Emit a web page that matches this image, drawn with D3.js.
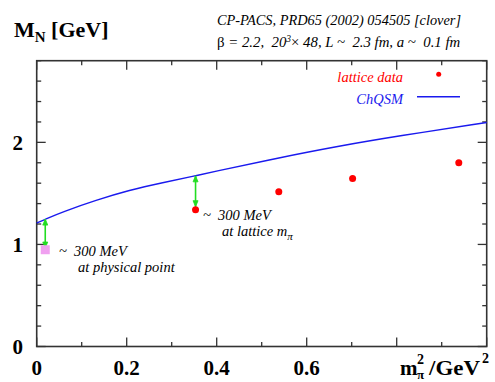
<!DOCTYPE html>
<html><head><meta charset="utf-8">
<script src="https://cdn.jsdelivr.net/npm/d3@7"></script>
<style>
html,body{margin:0;padding:0;background:#fff;}
svg text{font-family:"Liberation Serif","Times New Roman",serif; white-space:pre;}
</style></head>
<body>
<svg id="chart" width="495" height="382"></svg>
<script>
// ---- data ----
const latticeX = [0.353, 0.538, 0.702, 0.938];
const latticeY = [1.339, 1.515, 1.645, 1.800];
const latticeErr = [0.025, 0.02, 0.02, 0.025];
const chqsmX = [0, 0.019, 0.058, 0.132, 0.206, 0.28, 0.353, 0.384, 0.539, 0.673, 0.80, 1.0];
const chqsmY = [1.209, 1.248, 1.32, 1.434, 1.532, 1.606, 1.672, 1.704, 1.85, 1.965, 2.06, 2.195];
const physX = [0.019];
const physY = [0.948];
const arrowX = [0.019, 0.353];
const arrowTop = [1.248, 1.672];
const arrowBottom = [0.965, 1.37];
const xTickLabels = ["0", "0.2", "0.4", "0.6"];
const yTickLabels = ["0", "1", "2"];
const header1 = "CP-PACS, PRD65 (2002) 054505 [clover]";

const svg = d3.select("#chart");
const X0 = 36.7, X1 = 486.7, Y0 = 346.5, Y1 = 60.7;
const x = d3.scaleLinear().domain([0, 1]).range([X0, X1]);
const y = d3.scaleLinear().domain([0, 2.8]).range([Y0, Y1]);

// frame
svg.append("rect").attr("x", X0).attr("y", Y1).attr("width", X1 - X0).attr("height", Y0 - Y1)
  .attr("fill", "none").attr("stroke", "#333").attr("stroke-width", 1.6);

// ticks
const tickCol = "#333";
const xt = d3.range(0, 1.0001, 0.1);
xt.forEach((v, i) => {
  const L = (i % 2 === 0) ? 9 : 4.5;
  svg.append("line").attr("x1", x(v)).attr("x2", x(v)).attr("y1", Y0).attr("y2", Y0 - L).attr("stroke", tickCol).attr("stroke-width", 1.3);
  svg.append("line").attr("x1", x(v)).attr("x2", x(v)).attr("y1", Y1).attr("y2", Y1 + L).attr("stroke", tickCol).attr("stroke-width", 1.3);
});
const yt = d3.range(0, 2.8001, 0.2);
yt.forEach((v, i) => {
  const L = (i % 5 === 0) ? 9 : 4.5;
  svg.append("line").attr("y1", y(v)).attr("y2", y(v)).attr("x1", X0).attr("x2", X0 + L).attr("stroke", tickCol).attr("stroke-width", 1.3);
  svg.append("line").attr("y1", y(v)).attr("y2", y(v)).attr("x1", X1).attr("x2", X1 - L).attr("stroke", tickCol).attr("stroke-width", 1.3);
});

// tick labels
xTickLabels.forEach(t => {
  svg.append("text").attr("x", x(+t)).attr("y", 375).attr("text-anchor", "middle")
    .attr("font-size", 21).attr("font-weight", "bold").text(t);
});
yTickLabels.forEach(t => {
  svg.append("text").attr("x", 23).attr("y", y(+t)).attr("dy", "0.35em").attr("text-anchor", "end")
    .attr("font-size", 21).attr("font-weight", "bold").text(t);
});

// axis titles
const yt1 = svg.append("text").attr("x", 14).attr("y", 37).attr("font-size", 22).attr("font-weight", "bold");
yt1.append("tspan").text("M");
yt1.append("tspan").attr("font-size", 15).attr("dy", 5).text("N");
yt1.append("tspan").attr("dy", -5).text(" [GeV]");

svg.append("text").attr("x", 400).attr("y", 375).attr("font-size", 21).attr("font-weight", "bold").text("m");
svg.append("text").attr("x", 417).attr("y", 364).attr("font-size", 14).attr("font-weight", "bold").text("2");
svg.append("text").attr("x", 417).attr("y", 379).attr("font-size", 13).attr("font-weight", "bold").text("π");
svg.append("text").attr("x", 429).attr("y", 375).attr("font-size", 21).attr("font-weight", "bold")
  .attr("textLength", 51).attr("lengthAdjust", "spacingAndGlyphs").text("/GeV");
svg.append("text").attr("x", 482).attr("y", 363).attr("font-size", 14).attr("font-weight", "bold").text("2");

// header
svg.append("text").attr("x", 217).attr("y", 25).attr("font-size", 14).attr("font-style", "italic")
  .attr("textLength", 244).attr("lengthAdjust", "spacingAndGlyphs").text(header1);
const h2 = svg.append("text").attr("x", 217).attr("y", 47).attr("font-size", 14.8).attr("font-style", "italic");
h2.append("tspan").attr("font-style", "normal").text("β");
h2.append("tspan").text(" = 2.2,  20");
h2.append("tspan").attr("font-size", 9.5).attr("dy", -5).text("3");
h2.append("tspan").attr("dy", 5).attr("font-style", "normal").text("×");
h2.append("tspan").text(" 48, L ~  2.3 fm, a ~  0.1 fm");

// ChQSM curve
const curvePts = chqsmX.map((v, i) => [v, chqsmY[i]]);
svg.append("path").datum(curvePts)
  .attr("d", d3.line().x(d => x(d[0])).y(d => y(d[1])).curve(d3.curveBasis))
  .attr("fill", "none").attr("stroke", "#1a1aee").attr("stroke-width", 1.4);

// arrows
const green = "#22dd22";
arrowX.forEach((v, i) => {
  const xx = x(v), ya = y(arrowTop[i]), yb = y(arrowBottom[i]);
  svg.append("line").attr("x1", xx).attr("x2", xx).attr("y1", ya).attr("y2", yb).attr("stroke", green).attr("stroke-width", 1.6);
  svg.append("path").attr("d", `M${xx - 2.5},${ya + 6}L${xx},${ya}L${xx + 2.5},${ya + 6}Z`).attr("fill", green).attr("stroke", green).attr("stroke-width", 0.8);
  svg.append("path").attr("d", `M${xx - 2.5},${yb - 6}L${xx},${yb}L${xx + 2.5},${yb - 6}Z`).attr("fill", green).attr("stroke", green).attr("stroke-width", 0.8);
});

// physical point
physX.forEach((v, i) => {
  svg.append("rect").attr("x", x(v) - 4.5).attr("y", y(physY[i]) - 4.5).attr("width", 9).attr("height", 9)
    .attr("fill", "#f0a0f0");
});

// lattice data
latticeX.forEach((v, i) => {
  svg.append("line").attr("x1", x(v)).attr("x2", x(v)).attr("y1", y(latticeY[i] - latticeErr[i])).attr("y2", y(latticeY[i] + latticeErr[i]))
    .attr("stroke", "#ff0000").attr("stroke-width", 1.6);
  svg.append("circle").attr("cx", x(v)).attr("cy", y(latticeY[i])).attr("r", 3.5).attr("fill", "#ff0000");
});

// annotations
function ann(x0, yb, l2x) {
  svg.append("text").attr("x", x0).attr("y", yb).attr("font-size", 14.5).attr("font-style", "italic").text("~  300 MeV");
  return svg.append("text").attr("x", l2x).attr("y", yb + 16).attr("font-size", 14.5).attr("font-style", "italic");
}
const a1 = ann(59, 256, 78);
a1.text("at physical point");
const a2 = ann(203, 220, 222);
a2.append("tspan").text("at lattice m");
a2.append("tspan").attr("font-size", 11).attr("dy", 4).text("π");

// legend
svg.append("text").attr("x", 403).attr("y", 82).attr("text-anchor", "end").attr("font-size", 14.5)
  .attr("font-style", "italic").attr("fill", "#ff0000").text("lattice data");
svg.append("circle").attr("cx", 438.7).attr("cy", 74.3).attr("r", 2.5).attr("fill", "#ff0000");
svg.append("text").attr("x", 403).attr("y", 104).attr("text-anchor", "end").attr("font-size", 14.5)
  .attr("font-style", "italic").attr("fill", "#1a1aee").text("ChQSM");
svg.append("line").attr("x1", 417).attr("x2", 460).attr("y1", 96.7).attr("y2", 96.7).attr("stroke", "#1a1aee").attr("stroke-width", 1.4);
</script>
</body></html>
